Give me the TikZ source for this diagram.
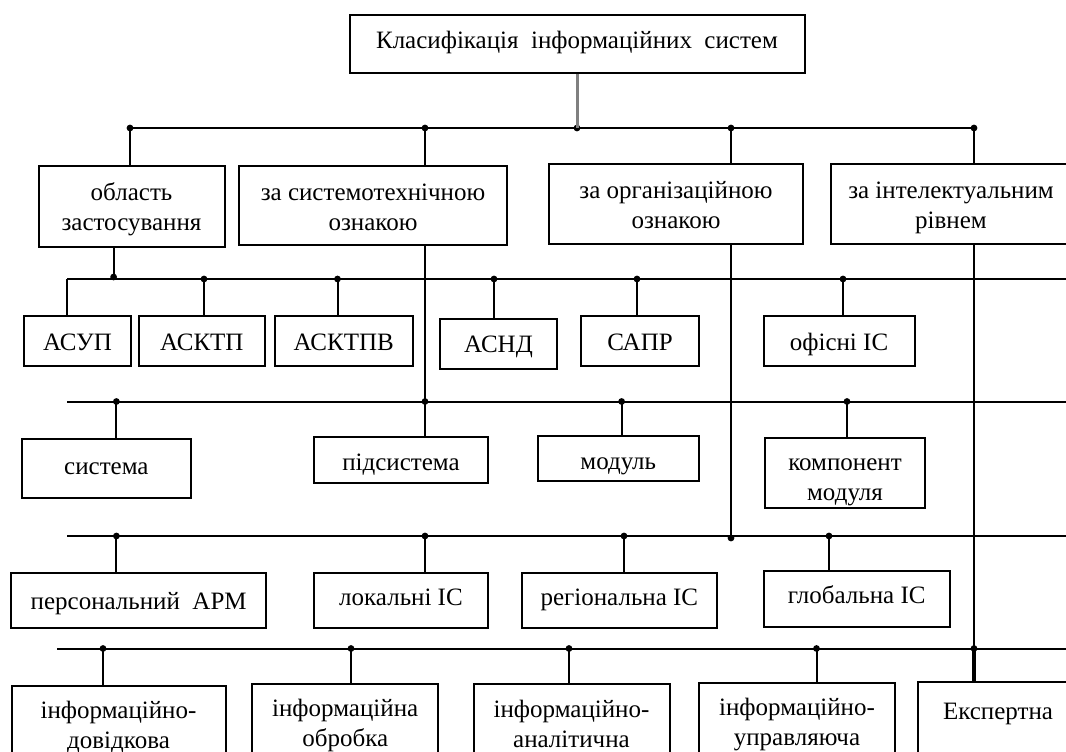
\documentclass[tikz,border=0pt]{standalone}
\usepackage{fontspec}
\setmainfont{Liberation Serif}
\usetikzlibrary{positioning}
\def\two#1#2{\begin{tabular}[t]{@{}c@{}}#1\\#2\end{tabular}}

\begin{document}
\begin{tikzpicture}[
    x=0.5pt, y=-0.5pt,
    box/.style={rectangle, draw=black, line width=1pt, anchor=north, inner ysep=0pt, inner xsep=1pt, text height=17pt, font=\fontsize{12.5}{15}\selectfont},
    dot/.style={circle, fill=black, inner sep=0pt, minimum size=3.4pt},
    line/.style={line width=1pt},
    stem/.style={line width=1.5pt, draw=black!50},
]
\useasboundingbox (0,0) rectangle (1066,751);
\clip (0,0) rectangle (1066,751);

% Nodes
\node[box, minimum width=227.5pt, text height=16.5pt, text depth=12.5pt] (title) at (577,14) {Класифікація\ \ інформаційних\ \ систем};

\node[box, minimum width=93pt, text depth=23.5pt] (area) at (131.5,165) {\two{область}{застосування}};
\node[box, minimum width=134pt, text depth=22.5pt] (systech) at (373,165) {\two{за системотехнічною}{ознакою}};
\node[box, minimum width=127.25pt, text depth=23pt] (organ) at (676,163) {\two{за організаційною}{ознакою}};
\node[box, minimum width=120pt, text depth=23pt] (intel) at (951,163) {\two{за інтелектуальним}{рівнем}};

\node[box, minimum width=53.5pt, text depth=8pt] (asup) at (77.5,315) {АСУП};
\node[box, minimum width=62.75pt, text depth=8pt] (asktp) at (201.75,315) {АСКТП};
\node[box, minimum width=69.25pt, text depth=8pt] (asktpv) at (343.75,315) {АСКТПВ};
\node[box, minimum width=58.5pt, text depth=8.25pt] (asnd) at (498.5,317.5) {АСНД};
\node[box, minimum width=59pt, text depth=8pt] (sapr) at (640,315) {САПР};
\node[box, minimum width=75.5pt, text depth=8pt] (office) at (839,315) {офісні ІС};

\node[box, minimum width=84.65pt, text height=18pt, text depth=11.65pt] (system) at (106.35,437.7) {система};
\node[box, minimum width=87pt, text height=16.5pt, text depth=6.35pt] (subsys) at (401,436) {підсистема};
\node[box, minimum width=80.75pt, text height=16.5pt, text depth=6pt] (module) at (618.25,435) {модуль};
\node[box, minimum width=80pt, text height=16pt, text depth=19pt] (component) at (845,437) {\two{компонент}{модуля}};

\node[box, minimum width=127.3pt, text height=18pt, text depth=9.35pt] (arm) at (138.7,572) {персональний\ \ АРМ};
\node[box, minimum width=87pt, text height=16pt, text depth=11.35pt] (local) at (401,572) {локальні ІС};
\node[box, minimum width=97.65pt, text height=16pt, text depth=11.35pt] (region) at (619.35,572) {регіональна ІС};
\node[box, minimum width=93.25pt, text height=16.5pt, text depth=11.5pt] (global) at (856.75,569.7) {глобальна ІС};

\node[box, minimum width=107pt, text height=16pt, text depth=40pt] (reference) at (118.5,685) {\two{інформаційно-}{довідкова}};
\node[box, minimum width=92.8pt, text height=16pt, text depth=40pt] (processing) at (345.2,683) {\two{інформаційна}{обробка}};
\node[box, minimum width=98pt, text height=16.5pt, text depth=40pt] (analytic) at (571.5,683) {\two{інформаційно-}{аналітична}};
\node[box, minimum width=98pt, text height=16.5pt, text depth=40pt] (control) at (797,681.5) {\two{інформаційно-}{управляюча}};
\node[box, minimum width=80pt, text height=18.5pt, text depth=40pt] (expert) at (998,681) {Експертна};

% Bus lines
\coordinate (busAw) at (130,128);  \coordinate (busAe) at (974,128);
\coordinate (busBw) at (67,279);   \coordinate (busBe) at (1080,279);
\coordinate (busCw) at (67,401.5); \coordinate (busCe) at (1080,401.5);
\coordinate (busDw) at (67,536);   \coordinate (busDe) at (1080,536);
\coordinate (busEw) at (57,648.5); \coordinate (busEe) at (1080,648.5);
\draw[line] (busAw) -- (busAe);
\draw[line] (busBw) -- (busBe);
\draw[line] (busCw) -- (busCe);
\draw[line] (busDw) -- (busDe);
\draw[line] (busEw) -- (busEe);

% Junctions
\node[dot] (jA1) at (130,128) {};
\node[dot] (jA2) at (425,128) {};
\node[dot] (jA3) at (577,128) {};
\node[dot] (jA4) at (731,128) {};
\node[dot] (jA5) at (974,128) {};
\node[dot] (jB1) at (113.6,277) {};
\node[dot] (jB2) at (204,279) {};
\node[dot] (jB3) at (337.5,279) {};
\node[dot] (jB4) at (494,279) {};
\node[dot] (jB5) at (637,279) {};
\node[dot] (jB6) at (843,279) {};
\node[dot] (jC1) at (116.4,401.5) {};
\node[dot] (jC2) at (425,401.5) {};
\node[dot] (jC3) at (621.6,401.5) {};
\node[dot] (jC4) at (847,401.5) {};
\node[dot] (jD1) at (116.4,536) {};
\node[dot] (jD2) at (425,536) {};
\node[dot] (jD3) at (624,536) {};
\node[dot] (jD4) at (731,538) {};
\node[dot] (jD5) at (829,536) {};
\node[dot] (jE1) at (103,648.5) {};
\node[dot] (jE2) at (351,648.5) {};
\node[dot] (jE3) at (569,648.5) {};
\node[dot] (jE4) at (816.5,648.5) {};
\node[dot] (jE5) at (974,648.5) {};

% Connections
\draw[stem] (title.south) -- (jA3.center);
\draw[line] (jA1.center) -- (jA1 |- area.north);
\draw[line] (jA2.center) -- (jA2 |- systech.north);
\draw[line] (jA4.center) -- (jA4 |- organ.north);
\draw[line] (jA5.center) -- (jA5 |- intel.north);

\draw[line] (jB1 |- area.south) -- (jB1.center);
\draw[line] (busBw) -- (busBw |- asup.north);
\draw[line] (jB2.center) -- (jB2 |- asktp.north);
\draw[line] (jB3.center) -- (jB3 |- asktpv.north);
\draw[line] (jB4.center) -- (jB4 |- asnd.north);
\draw[line] (jB5.center) -- (jB5 |- sapr.north);
\draw[line] (jB6.center) -- (jB6 |- office.north);

\draw[line] (jC2 |- systech.south) -- (jC2 |- subsys.north);
\draw[line] (jC1.center) -- (jC1 |- system.north);
\draw[line] (jC3.center) -- (jC3 |- module.north);
\draw[line] (jC4.center) -- (jC4 |- component.north);

\draw[line] (jD4 |- organ.south) -- (jD4.center);
\draw[line] (jD1.center) -- (jD1 |- arm.north);
\draw[line] (jD2.center) -- (jD2 |- local.north);
\draw[line] (jD3.center) -- (jD3 |- region.north);
\draw[line] (jD5.center) -- (jD5 |- global.north);

\draw[line] (jE5 |- intel.south) -- (jE5.center);
\draw[line] (jE1.center) -- (jE1 |- reference.north);
\draw[line] (jE2.center) -- (jE2 |- processing.north);
\draw[line] (jE3.center) -- (jE3 |- analytic.north);
\draw[line] (jE4.center) -- (jE4 |- control.north);
\draw[line width=1.8pt] (jE5.center) -- (jE5 |- expert.north);

\end{tikzpicture}
\end{document}
